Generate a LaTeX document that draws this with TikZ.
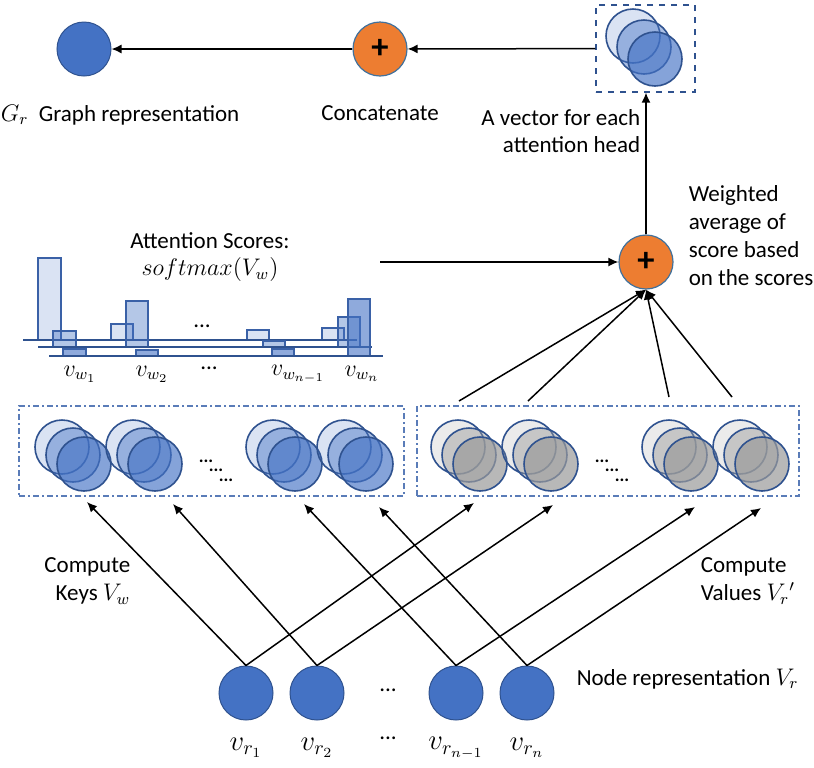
\documentclass[tikz,border=0pt]{standalone}
\usepackage{fontspec}
\setmainfont{Carlito}
\usetikzlibrary{arrows.meta, positioning}

\definecolor{nodeblue}{HTML}{4472C4}
\definecolor{rimblue}{HTML}{2F528F}
\definecolor{plusorange}{HTML}{ED7D31}
\definecolor{plusrim}{HTML}{41719C}
\definecolor{boxblue}{HTML}{5A7CB8}
\definecolor{valgray}{HTML}{9A9A9A}

\tikzset{
  blob/.style={circle, draw=rimblue, fill=nodeblue, line width=0.5pt, minimum size=27pt, inner sep=0pt},
  plus/.style={circle, draw=plusrim, fill=plusorange, line width=0.6pt, minimum size=27pt, inner sep=0pt, font=\LARGE\bfseries},
  ring/.style={circle, draw=rimblue, line width=0.8pt, minimum size=27pt, inner sep=0pt},
  grpbox/.style={draw=boxblue, line width=0.6pt, dash pattern=on 3pt off 1.5pt on 1pt off 1.5pt, inner sep=0pt},
  bar/.style={draw=nodeblue!85!black, line width=0.6pt, fill=nodeblue},
  txt/.style={inner sep=0pt},
  dotz/.style={inner sep=0pt, font=\small\bfseries},
}

\begin{document}
\begin{tikzpicture}[x=0.5pt, y=-0.5pt, >={Latex[length=5pt,width=4.5pt]}, line width=0.75pt,
  every node/.style={font=\fontsize{11.5}{13.5}\selectfont}]
\useasboundingbox (0,0) rectangle (814,767);

% top row
\node[blob] (gr) at (84,49) {};
\node[plus] (cat) at (380,49) {+};
\node[draw=rimblue, dashed, line width=0.6pt, minimum width=49.5pt, minimum height=43.5pt] (hd) at (645.5,48.5) {};
\node[ring, fill=nodeblue, fill opacity=.2] (hd1) at (633,36) {};
\node[ring, fill=nodeblue, fill opacity=.45] (hd2) at (644,47) {};
\node[ring, fill=nodeblue, fill opacity=.65] (hd3) at (655,59) {};
\node[txt] (grl) at (120,115) {$G_r$\ \ Graph representation};
\node[txt] (catl) at (380,113) {Concatenate};
\node[txt, anchor=east, align=right] (hdl) at (641,131) {A vector for each\\attention head};

\draw[->] (cat) -- (gr);
\draw[->] (hd) -- (cat);

% weighted average
\node[plus] (avg) at (646,262) {+};
\node[txt, anchor=west, align=left, font=\fontsize{11.5}{14}\selectfont] (avgl) at (688,236) {Weighted\\average of\\score based\\on the scores};
\draw[->] (avg.north) -- (avg.north |- hd.south);

% attention scores
\node[txt, align=center] (att) at (210,257) {Attention Scores:\\\large$softmax(V_w)$};
\coordinate (atts) at (380,262);
\draw[->] (atts) -- (avg);

\foreach \a/\b/\t in {38/61/258, 111/133/324, 247/269/330, 322/344/328}
  \draw[bar, fill opacity=.2] (\a,340) rectangle (\b,\t);
\draw[rimblue, line width=0.6pt] (23,340) -- (357,340);
\foreach \a/\b/\t in {53/76/331, 126/148/301, 263/285/341, 338/360/317}
  \draw[bar, fill opacity=.4] (\a,347) rectangle (\b,\t);
\draw[rimblue, line width=0.6pt] (38,347) -- (372,347);
\foreach \a/\b/\t in {63/86/349, 136/158/350, 272/294/349, 348/370/299}
  \draw[bar, fill opacity=.6] (\a,356) rectangle (\b,\t);
\draw[rimblue, line width=0.6pt] (49,356) -- (383,356);
\node[txt] (bdots) at (202,326) {...};

\node (w1) at (80,374) {\large$v_{w_1}$};
\node (w2) at (152,374) {\large$v_{w_2}$};
\node (wdots) at (209,368) {...};
\node (w3) at (298,374) {\large$v_{w_{n-1}}$};
\node (w4) at (362,374) {\large$v_{w_n}$};

% keys and values
\node[grpbox, minimum width=192.5pt, minimum height=45pt] (keys) at (211.5,451) {};
\node[grpbox, minimum width=191pt, minimum height=45pt] (vals) at (608,451) {};
\foreach \i/\x in {1/62, 2/133, 3/273, 4/344} {
  \node[ring, fill=nodeblue, fill opacity=.2] (k\i a) at (\x,447) {};
  \node[ring, fill=nodeblue, fill opacity=.45] (k\i b) at (\x+11,455) {};
  \node[ring, fill=nodeblue, fill opacity=.65] (k\i c) at (\x+22,464) {};
}
\foreach \i/\x in {1/458, 2/529, 3/669, 4/740} {
  \node[ring, fill=valgray, fill opacity=.2] (v\i a) at (\x,447) {};
  \node[ring, fill=valgray, fill opacity=.45] (v\i b) at (\x+11,455) {};
  \node[ring, fill=valgray, fill opacity=.7] (v\i c) at (\x+22,464) {};
}
\node[dotz] (kd1) at (206,461) {...};
\node[dotz] (kd2) at (216,470) {...};
\node[dotz] (kd3) at (226,480) {...};
\node[dotz] (vd1) at (602,461) {...};
\node[dotz] (vd2) at (612,470) {...};
\node[dotz] (vd3) at (622,480) {...};

\foreach \i/\x/\y in {1/459/401, 2/528/401, 3/669/397, 4/732/397} {
  \coordinate (s\i) at (\x,\y);
  \draw[->] (s\i) -- (avg.south);
}

% node representation
\foreach \i/\x in {1/246, 2/317, 3/456, 4/527}
  \node[blob] (r\i) at (\x,693) {};
\node[txt] (rdots) at (388,690) {...};
\node (rl1) at (246,748) {\Large$v_{r_1}$};
\node (rl2) at (317,748) {\Large$v_{r_2}$};
\node (rl0) at (388,738) {...};
\node (rl3) at (456,748) {\Large$v_{r_{n-1}}$};
\node (rl4) at (527,748) {\Large$v_{r_n}$};
\node[txt, anchor=west] (nrl) at (576,679) {Node representation $V_r$};

\node[txt, anchor=east, align=right, font=\fontsize{11.5}{14}\selectfont] (kl) at (131,581) {Compute\\Keys $V_w$};
\node[txt, anchor=west, align=left, font=\fontsize{11.5}{14}\selectfont] (vl) at (700,581) {Compute\\Values $V_r{}'$};

\foreach \i/\x/\y in {1/87/502, 2/173/504, 3/304/504, 4/379/507}
  \coordinate (kt\i) at (\x,\y);
\foreach \i/\x/\y in {1/474/503, 2/553/505, 3/695/507, 4/761/508}
  \coordinate (vt\i) at (\x,\y);
\foreach \i in {1,...,4} {
  \draw[->] (r\i.north) -- (kt\i);
  \draw[->] (r\i.north) -- (vt\i);
}
\end{tikzpicture}
\end{document}
